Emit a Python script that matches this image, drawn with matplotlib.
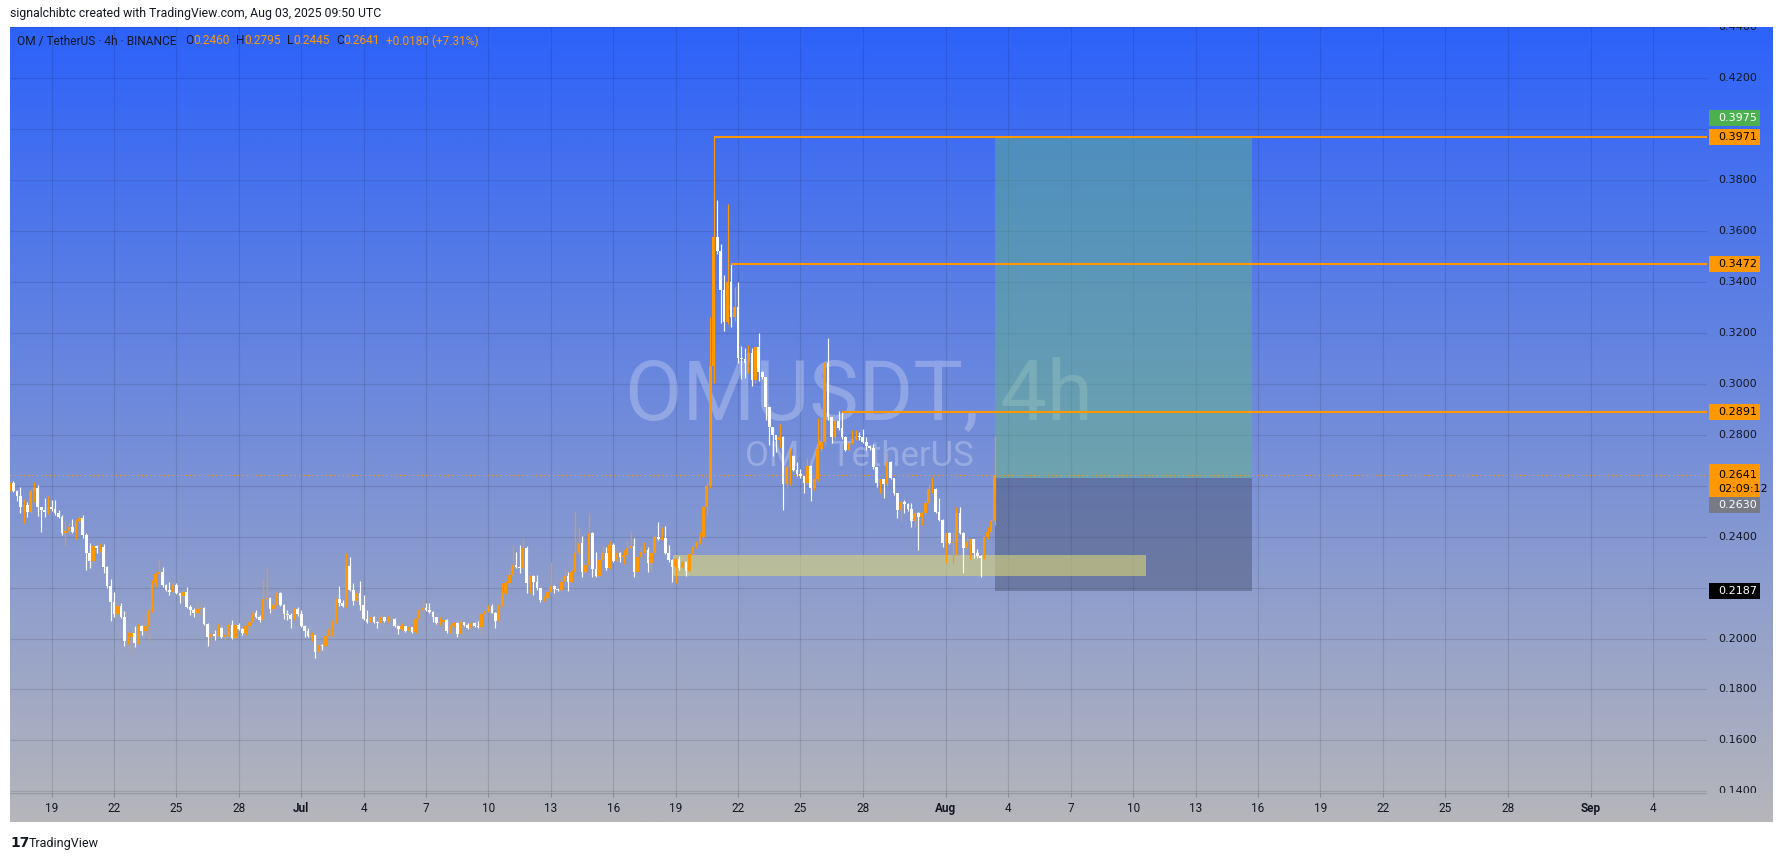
import matplotlib
matplotlib.use("Agg")
import matplotlib.pyplot as plt
import matplotlib.transforms as mtransforms
from matplotlib.patches import Rectangle
import numpy as np

W, H = 1784, 858

# OM/USDT 4h candles, first bar opens 2025-06-17 00:00 UTC, last one is the live bar
first_open = 0.2583
closes = [
    0.2610, 0.2581, 0.2560, 0.2518, 0.2525, 0.2496, 0.2581, 0.2590, 0.2518, 0.2505,
    0.2498, 0.2515, 0.2507, 0.2492, 0.2479, 0.2413, 0.2422, 0.2439, 0.2420, 0.2462,
    0.2472, 0.2407, 0.2337, 0.2306, 0.2363, 0.2357, 0.2360, 0.2282, 0.2206, 0.2145,
    0.2096, 0.2128, 0.2086, 0.1992, 0.2007, 0.2023, 0.1984, 0.2049, 0.2031, 0.2049,
    0.2112, 0.2217, 0.2254, 0.2260, 0.2210, 0.2191, 0.2182, 0.2210, 0.2178, 0.2167,
    0.2183, 0.2125, 0.2112, 0.2099, 0.2115, 0.2120, 0.2057, 0.2005, 0.2018, 0.2011,
    0.2040, 0.2005, 0.2014, 0.2053, 0.2001, 0.2053, 0.2037, 0.2023, 0.2049, 0.2066,
    0.2099, 0.2086, 0.2073,
    0.2154, 0.2160, 0.2116, 0.2132, 0.2180, 0.2132, 0.2096, 0.2092, 0.2077, 0.2115,
    0.2096, 0.2050, 0.2031, 0.2010, 0.2014, 0.1948, 0.1975, 0.1971, 0.2011, 0.2036,
    0.2069, 0.2154, 0.2141, 0.2128, 0.2285, 0.2191, 0.2149, 0.2178, 0.2132, 0.2077,
    0.2064, 0.2086, 0.2064, 0.2062, 0.2086, 0.2070, 0.2075, 0.2077, 0.2049, 0.2037,
    0.2049, 0.2029, 0.2044, 0.2027, 0.2077, 0.2112, 0.2118, 0.2112, 0.2105, 0.2083,
    0.2062, 0.2066, 0.2073, 0.2031, 0.2049, 0.2062, 0.2018, 0.2066, 0.2053, 0.2040,
    0.2062, 0.2049, 0.2044, 0.2096, 0.2109, 0.2129, 0.2102, 0.2070, 0.2132, 0.2180,
    0.2217, 0.2249, 0.2289, 0.2280, 0.2276,
    0.2357, 0.2217, 0.2246, 0.2223, 0.2197, 0.2151, 0.2160, 0.2184, 0.2206, 0.2193,
    0.2191, 0.2223, 0.2246, 0.2223, 0.2263, 0.2335, 0.2377, 0.2263, 0.2289, 0.2413,
    0.2272, 0.2246, 0.2308, 0.2335, 0.2276, 0.2367, 0.2306, 0.2337, 0.2319, 0.2328,
    0.2357, 0.2363, 0.2263, 0.2322, 0.2341, 0.2348, 0.2295, 0.2335, 0.2400, 0.2390,
    0.2394, 0.2335, 0.2308, 0.2282, 0.2311, 0.2276, 0.2302, 0.2266, 0.2332, 0.2361,
    0.2374, 0.2400, 0.2515, 0.2599, 0.3070, 0.3576, 0.3523, 0.3369, 0.3244, 0.3402,
    0.3264, 0.3301, 0.3103, 0.3097, 0.3081, 0.3123, 0.3015, 0.3144, 0.3048,
    0.3026, 0.2908, 0.2829, 0.2799, 0.2780, 0.2793, 0.2607, 0.2675, 0.2717, 0.2662,
    0.2646, 0.2638, 0.2609, 0.2678, 0.2590, 0.2625, 0.2743, 0.2773, 0.3081, 0.2869,
    0.2790, 0.2856, 0.2825, 0.2790, 0.2740, 0.2767, 0.2782, 0.2795, 0.2793, 0.2773,
    0.2756, 0.2747, 0.2672, 0.2612, 0.2625, 0.2607, 0.2695, 0.2629, 0.2570, 0.2505,
    0.2537, 0.2528, 0.2507, 0.2463, 0.2492, 0.2476, 0.2492, 0.2531, 0.2586, 0.2589,
    0.2498, 0.2465, 0.2374, 0.2413, 0.2374, 0.2380, 0.2492, 0.2416, 0.2354, 0.2380,
    0.2389, 0.2337, 0.2324, 0.2315, 0.2397, 0.2420, 0.2460, 0.2641,
]
highs = [
    0.2616, 0.2619, 0.2583, 0.2597, 0.2547, 0.2538, 0.2586, 0.2616, 0.2603, 0.2518,
    0.2552, 0.2559, 0.2544, 0.2544, 0.2505, 0.2485, 0.2462, 0.2459, 0.2468, 0.2468,
    0.2481, 0.2485, 0.2413, 0.2374, 0.2367, 0.2367, 0.2374, 0.2371, 0.2286, 0.2234,
    0.2184, 0.2145, 0.2138, 0.2108, 0.2027, 0.2034, 0.2049, 0.2057, 0.2053, 0.2096,
    0.2125, 0.2230, 0.2263, 0.2313, 0.2280, 0.2216, 0.2221, 0.2221, 0.2217, 0.2180,
    0.2191, 0.2201, 0.2130, 0.2120, 0.2145, 0.2138, 0.2125, 0.2060, 0.2027, 0.2034,
    0.2057, 0.2044, 0.2020, 0.2057, 0.2073, 0.2057, 0.2060, 0.2040, 0.2053, 0.2070,
    0.2112, 0.2112, 0.2093,
    0.2232, 0.2280, 0.2162, 0.2138, 0.2191, 0.2184, 0.2136, 0.2112, 0.2099, 0.2118,
    0.2125, 0.2112, 0.2053, 0.2040, 0.2027, 0.2014, 0.1980, 0.1980, 0.2014, 0.2040,
    0.2073, 0.2160, 0.2206, 0.2151, 0.2335, 0.2322, 0.2219, 0.2184, 0.2226, 0.2171,
    0.2112, 0.2090, 0.2090, 0.2070, 0.2092, 0.2086, 0.2088, 0.2088, 0.2082, 0.2053,
    0.2060, 0.2050, 0.2048, 0.2046, 0.2080, 0.2118, 0.2151, 0.2141, 0.2138, 0.2110,
    0.2085, 0.2086, 0.2076, 0.2076, 0.2052, 0.2066, 0.2066, 0.2079, 0.2066, 0.2060,
    0.2066, 0.2066, 0.2068, 0.2099, 0.2112, 0.2132, 0.2136, 0.2105, 0.2136, 0.2217,
    0.2225, 0.2276, 0.2367, 0.2341, 0.2367,
    0.2393, 0.2362, 0.2250, 0.2250, 0.2249, 0.2200, 0.2165, 0.2188, 0.2302, 0.2210,
    0.2198, 0.2243, 0.2276, 0.2263, 0.2268, 0.2498, 0.2439, 0.2403, 0.2295, 0.2492,
    0.2418, 0.2341, 0.2312, 0.2367, 0.2361, 0.2384, 0.2377, 0.2354, 0.2340, 0.2348,
    0.2384, 0.2420, 0.2393, 0.2326, 0.2363, 0.2380, 0.2361, 0.2340, 0.2405, 0.2459,
    0.2437, 0.2442, 0.2367, 0.2312, 0.2316, 0.2324, 0.2306, 0.2306, 0.2336, 0.2366,
    0.2384, 0.2417, 0.2520, 0.2616, 0.3264, 0.3971, 0.3722, 0.3549, 0.3428, 0.3707,
    0.3471, 0.3379, 0.3399, 0.3149, 0.3140, 0.3153, 0.3140, 0.3150, 0.3199,
    0.3050, 0.3028, 0.2910, 0.2832, 0.2800, 0.2843, 0.2795, 0.2680, 0.2747, 0.2720,
    0.2695, 0.2665, 0.2640, 0.2708, 0.2680, 0.2630, 0.2865, 0.2865, 0.3090, 0.3179,
    0.2871, 0.2860, 0.2895, 0.2891, 0.2795, 0.2770, 0.2819, 0.2819, 0.2812, 0.2822,
    0.2790, 0.2760, 0.2762, 0.2675, 0.2628, 0.2628, 0.2734, 0.2698, 0.2632, 0.2573,
    0.2540, 0.2544, 0.2534, 0.2534, 0.2495, 0.2496, 0.2495, 0.2544, 0.2607, 0.2636,
    0.2592, 0.2551, 0.2468, 0.2416, 0.2420, 0.2420, 0.2515, 0.2518, 0.2420, 0.2400,
    0.2392, 0.2392, 0.2350, 0.2328, 0.2400, 0.2439, 0.2468, 0.2795,
]
lows = [
    0.2578, 0.2577, 0.2542, 0.2492, 0.2453, 0.2479, 0.2492, 0.2538, 0.2481, 0.2420,
    0.2479, 0.2488, 0.2500, 0.2485, 0.2472, 0.2407, 0.2363, 0.2413, 0.2413, 0.2390,
    0.2455, 0.2394, 0.2269, 0.2276, 0.2300, 0.2337, 0.2341, 0.2256, 0.2200, 0.2070,
    0.2086, 0.2086, 0.2080, 0.1972, 0.1979, 0.1942, 0.1968, 0.1980, 0.2014, 0.2018,
    0.1988, 0.2105, 0.2201, 0.2250, 0.2204, 0.2186, 0.2171, 0.2178, 0.2175, 0.2138,
    0.2145, 0.2120, 0.2093, 0.2086, 0.2095, 0.2090, 0.2052, 0.1972, 0.1984, 0.1994,
    0.2008, 0.2001, 0.1994, 0.2008, 0.1998, 0.1998, 0.2034, 0.2014, 0.2014, 0.2028,
    0.2060, 0.2080, 0.2066,
    0.2073, 0.2118, 0.2102, 0.2110, 0.2125, 0.2128, 0.2077, 0.2073, 0.2043, 0.2073,
    0.2090, 0.2046, 0.2007, 0.2007, 0.1990, 0.1925, 0.1945, 0.1955, 0.1965, 0.2008,
    0.2010, 0.2060, 0.2128, 0.2122, 0.2125, 0.2186, 0.2132, 0.2140, 0.2112, 0.2073,
    0.2060, 0.2060, 0.2060, 0.2043, 0.2058, 0.2066, 0.2064, 0.2066, 0.2045, 0.2016,
    0.2034, 0.2027, 0.2026, 0.2020, 0.2022, 0.2070, 0.2105, 0.2108, 0.2102, 0.2066,
    0.2058, 0.2053, 0.2031, 0.2020, 0.2020, 0.2046, 0.2007, 0.2014, 0.2050, 0.2036,
    0.2033, 0.2046, 0.2040, 0.2014, 0.2090, 0.2105, 0.2099, 0.2040, 0.2066, 0.2128,
    0.2175, 0.2212, 0.2245, 0.2275, 0.2256,
    0.2270, 0.2180, 0.2180, 0.2171, 0.2190, 0.2145, 0.2148, 0.2155, 0.2180, 0.2180,
    0.2185, 0.2188, 0.2220, 0.2188, 0.2220, 0.2258, 0.2330, 0.2240, 0.2258, 0.2285,
    0.2240, 0.2240, 0.2240, 0.2302, 0.2270, 0.2272, 0.2300, 0.2300, 0.2302, 0.2293,
    0.2324, 0.2350, 0.2240, 0.2260, 0.2318, 0.2336, 0.2263, 0.2263, 0.2330, 0.2385,
    0.2386, 0.2330, 0.2302, 0.2223, 0.2217, 0.2270, 0.2270, 0.2246, 0.2262, 0.2328,
    0.2356, 0.2370, 0.2395, 0.2481, 0.2590, 0.3002, 0.3510, 0.3238, 0.3209, 0.3235,
    0.3222, 0.3248, 0.3081, 0.3018, 0.3022, 0.3042, 0.2992, 0.3002, 0.3010,
    0.3020, 0.2858, 0.2760, 0.2717, 0.2734, 0.2754, 0.2505, 0.2594, 0.2603, 0.2658,
    0.2640, 0.2629, 0.2573, 0.2605, 0.2541, 0.2585, 0.2620, 0.2738, 0.2765, 0.2860,
    0.2767, 0.2785, 0.2820, 0.2785, 0.2736, 0.2736, 0.2762, 0.2778, 0.2780, 0.2768,
    0.2740, 0.2742, 0.2665, 0.2596, 0.2573, 0.2551, 0.2600, 0.2625, 0.2565, 0.2472,
    0.2463, 0.2492, 0.2502, 0.2439, 0.2439, 0.2348, 0.2446, 0.2488, 0.2527, 0.2570,
    0.2494, 0.2460, 0.2361, 0.2295, 0.2370, 0.2295, 0.2328, 0.2410, 0.2256, 0.2350,
    0.2311, 0.2315, 0.2315, 0.2243, 0.2311, 0.2390, 0.2415, 0.2445,
]

tick_dates = ['2025-06-19', '2025-06-22', '2025-06-25', '2025-06-28', '2025-07-01',
              '2025-07-04', '2025-07-07', '2025-07-10', '2025-07-13', '2025-07-16',
              '2025-07-19', '2025-07-22', '2025-07-25', '2025-07-28', '2025-08-01',
              '2025-08-04', '2025-08-07', '2025-08-10', '2025-08-13', '2025-08-16',
              '2025-08-19', '2025-08-22', '2025-08-25', '2025-08-28', '2025-09-01',
              '2025-09-04']
tick_labels = ['19', '22', '25', '28', 'Jul', '4', '7', '10', '13', '16', '19', '22',
               '25', '28', 'Aug', '4', '7', '10', '13', '16', '19', '22', '25', '28',
               'Sep', '4']
price_ticks = [0.14, 0.16, 0.18, 0.20, 0.22, 0.24, 0.26, 0.28, 0.30, 0.32, 0.34,
               0.36, 0.38, 0.40, 0.42, 0.44]
hidden_ticks = [0.22, 0.26, 0.40]   # covered by the price labels

levels = [0.3971, 0.3472, 0.2891]
level_from = [203, 208, 240]        # candle the horizontal line starts on
last_price = 0.2641
entry, target, stop = 0.2630, 0.3975, 0.2187
pos_end = '2025-08-15T17:00'
zone_low, zone_high = 0.2247, 0.2328
zone_start, zone_end = '2025-07-18T21:00', '2025-08-10T14:30'

ORANGE = '#FF9800'
DARK = '#131722'

t0 = np.datetime64('2025-06-17T00:00')


def day(s):
    return (np.datetime64(s) - t0) / np.timedelta64(1, 'h') / 24.0


closes = np.array(closes)
opens = np.concatenate([[first_open], closes[:-1]])
highs = np.maximum(np.array(highs), np.maximum(opens, closes))
lows = np.minimum(np.array(lows), np.minimum(opens, closes))
n = len(closes)
x = np.arange(n) * 4 / 24.0

x0, x1 = 0.0, 1697 / 20.8
y0, y1 = 0.13932, 0.44018


def fx(px):
    return px / W


def fy(py):
    return 1 - py / H


fig = plt.figure(figsize=(W / 100, H / 100), dpi=100)
fig.patch.set_facecolor('white')

# gradient background of the chart frame
bg = fig.add_axes([fx(10), fy(822), fx(1763), 795 / H])
top = np.array([45, 98, 250]) / 255
bot = np.array([182, 182, 186]) / 255
t = np.linspace(0, 1, 400)[:, None]
grad = (top * (1 - t) + bot * t)[:, None, :]
bg.imshow(grad, aspect='auto', extent=[0, 1, 0, 1], interpolation='bilinear')
bg.set_axis_off()

ax = fig.add_axes([fx(10), fy(793), fx(1697), 766 / H])
ax.set_facecolor('none')
ax.set_xlim(x0, x1)
ax.set_ylim(y0, y1)
ax.set_axis_off()

grid_c = (0, 0, 0, 0.11)
ax.hlines(price_ticks, x0, x1, colors=grid_c, lw=0.8, zorder=0.2)
tick_x = [day(d) for d in tick_dates]
ax.vlines(tick_x, y0, y1, colors=grid_c, lw=0.8, zorder=0.2)

# watermark
ax.text(0.5003, 0.4883, 'OMUSDT, 4h', transform=ax.transAxes, ha='center', va='baseline',
        fontsize=60, family='Roboto', color='white', alpha=0.25, zorder=0.3)
ax.text(0.5003, 0.4269, 'OM / TetherUS', transform=ax.transAxes, ha='center', va='baseline',
        fontsize=25, family='Roboto', color='white', alpha=0.25, zorder=0.3)

# long position tool
xl = x[-1]
ax.add_patch(Rectangle((xl, entry), day(pos_end) - xl, target - entry,
                       facecolor=(0.38, 0.72, 0.50, 0.45), lw=0, zorder=1))
ax.add_patch(Rectangle((xl, stop), day(pos_end) - xl, entry - stop,
                       facecolor=(0.27, 0.31, 0.43, 0.45), lw=0, zorder=1))
# support zone
ax.add_patch(Rectangle((day(zone_start), zone_low), day(zone_end) - day(zone_start),
                       zone_high - zone_low, facecolor=(0.85, 0.83, 0.47, 0.6), lw=0,
                       zorder=1.2))

# candles
up = closes >= opens
cols = np.where(up, ORANGE, '#FFFFFF')
ax.vlines(x, lows, highs, colors=cols, lw=0.85, zorder=3)
body = np.maximum(np.abs(closes - opens), 0.0003)
ax.bar(x, body, width=0.13, bottom=np.minimum(opens, closes), color=cols, lw=0, zorder=3)

# horizontal levels
for lv, i in zip(levels, level_from):
    ax.hlines(lv, x[i], x1, colors=ORANGE, lw=1.5, zorder=4)
ax.axhline(last_price, color=ORANGE, lw=0.9, ls=(0, (1, 2.5)), zorder=2.5)

# price scale
pa = fig.add_axes([fx(1707), fy(793), fx(66), 766 / H])
pa.set_facecolor('none')
pa.set_xlim(0, 1)
pa.set_ylim(y0, y1)
pa.set_axis_off()
for p in price_ticks:
    if p in hidden_ticks:
        continue
    pa.text(0.167, p, f'{p:.4f}', fontsize=8, family='DejaVu Sans', color=DARK,
            va='center', ha='left', clip_on=True)

tr = mtransforms.blended_transform_factory(pa.transAxes, pa.transData)
bh = 16 / 2546


def price_box(yc, text, face, tcol):
    pa.add_patch(Rectangle((0.03, yc - bh / 2), 0.77, bh, transform=tr, facecolor=face,
                           lw=0, zorder=5))
    pa.text(0.167, yc, text, fontsize=8, family='DejaVu Sans', color=tcol, va='center',
            ha='left', zorder=6)


price_box(0.40444, f'{target:.4f}', '#4CAF50', 'white')
for lv in levels:
    price_box(lv, f'{lv:.4f}', ORANGE, 'black')
pa.add_patch(Rectangle((0.03, 0.25558), 0.77, 0.01296, transform=tr, facecolor=ORANGE,
                       lw=0, zorder=5))
pa.text(0.167, 0.2644, f'{last_price:.4f}', fontsize=8, family='DejaVu Sans',
        color='black', va='center', ha='left', zorder=6)
pa.text(0.167, 0.25872, '02:09:12', fontsize=8, family='DejaVu Sans', color='black',
        va='center', ha='left', zorder=6)
price_box(0.25243, f'{entry:.4f}', '#787B86', 'white')
price_box(stop, f'{stop:.4f}', '#000000', 'white')

# time scale
ta = fig.add_axes([fx(10), fy(822), fx(1697), 29 / H])
ta.set_facecolor('none')
ta.set_xlim(x0, x1)
ta.set_ylim(0, 1)
ta.set_axis_off()
ta.axhline(1, color=(0, 0, 0, 0.15), lw=1)
ta.vlines(tick_x, 0.86, 1, colors=(0, 0, 0, 0.2), lw=0.8)
for xt, lb in zip(tick_x, tick_labels):
    bold = lb in ('Jul', 'Aug', 'Sep')
    ta.text(xt, 0.45, lb, ha='center', va='center', fontsize=8.5, family='Roboto',
            color=DARK, weight='bold' if bold else 'normal')

# header lines
fig.text(fx(10), fy(14), 'signalchibtc created with TradingView.com, Aug 03, 2025 09:50 UTC',
         fontsize=8.8, family='Roboto', color=DARK, va='center', ha='left')

renderer = fig.canvas.get_renderer()
pieces = [('OM / TetherUS · 4h · BINANCE', DARK, 9), ('O', DARK, 0), ('0.2460', ORANGE, 6),
          ('H', DARK, 0), ('0.2795', ORANGE, 6), ('L', DARK, 0), ('0.2445', ORANGE, 6),
          ('C', DARK, 0), ('0.2641', ORANGE, 6), ('+0.0180 (+7.31%)', ORANGE, 0)]
xp = 17
for s, c, gap in pieces:
    tx = fig.text(fx(xp), fy(41), s, fontsize=8.6, family='Roboto', color=c, va='center',
                  ha='left')
    xp += tx.get_window_extent(renderer=renderer).width + gap

# footer
fig.text(fx(10), fy(843), '17', fontsize=10, family='DejaVu Sans', weight='heavy',
         color=DARK, va='center', ha='left')
fig.text(fx(29), fy(843), 'TradingView', fontsize=9, family='Roboto', color=DARK,
         va='center', ha='left')

fig.savefig('out.png', dpi=100, facecolor='white')
